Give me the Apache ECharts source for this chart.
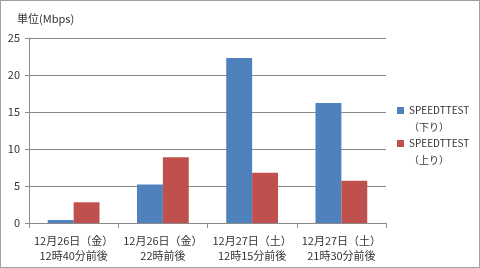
<!DOCTYPE html>
<html><head><meta charset="utf-8">
<script src="https://cdn.jsdelivr.net/npm/echarts@6/dist/echarts.min.js"></script>
<style>html,body{margin:0;padding:0;background:#fff}#c{width:480px;height:268px;box-sizing:border-box;border:1px solid #a0a0a0}</style>
</head><body><div id="c"></div>
<script>
const categories = ['12月26日（金）\n12時40分前後','12月26日（金）\n22時前後','12月27日（土）\n12時15分前後','12月27日（土）\n21時30分前後'];
const downValues = [0.4, 5.2, 22.3, 16.2];
const upValues = [2.8, 8.9, 6.8, 5.7];
const seriesNames = ['SPEEDTTEST\n（下り）','SPEEDTTEST\n（上り）'];
const unitLabel = '単位(Mbps)';
const font = '"Noto Sans CJK JP", "Noto Sans", sans-serif';
const chart = echarts.init(document.getElementById('c'));
const legendBase = {orient:'vertical',left:396,itemWidth:7,itemHeight:7,icon:'rect',padding:0,
  formatter: n => ' \n' + n,
  textStyle:{fontSize:10,color:'#333',lineHeight:17,fontFamily:font}};
chart.setOption({
  animation:false,
  textStyle:{fontFamily:font},
  title:{text:unitLabel,left:11,top:7,textStyle:{fontSize:11,fontWeight:'normal',color:'#333',fontFamily:font}},
  grid:{left:28,right:93,top:37,bottom:44},
  legend:[
    Object.assign({}, legendBase, {top:84, data:[seriesNames[0]]}),
    Object.assign({}, legendBase, {top:117, data:[seriesNames[1]]})
  ],
  xAxis:{type:'category',data:categories,
    axisLine:{lineStyle:{color:'#8a8a8a'}},
    axisTick:{show:true,length:5,lineStyle:{color:'#8a8a8a'}},
    axisLabel:{fontSize:11,color:'#333',lineHeight:15,margin:10,fontFamily:font,interval:0}},
  yAxis:{type:'value',min:0,max:25,interval:5,
    axisLine:{show:true,lineStyle:{color:'#8a8a8a'}},
    axisTick:{show:true,length:4,lineStyle:{color:'#8a8a8a'}},
    splitLine:{lineStyle:{color:'#8a8a8a'}},
    axisLabel:{fontSize:11,color:'#333',margin:9,fontFamily:font}},
  series:[
    {name:seriesNames[0],type:'bar',data:downValues,itemStyle:{color:'#4F81BD'},barGap:'0%',barCategoryGap:'42%'},
    {name:seriesNames[1],type:'bar',data:upValues,itemStyle:{color:'#C0504D'},barGap:'0%',barCategoryGap:'42%'}
  ]
});
</script></body></html>
